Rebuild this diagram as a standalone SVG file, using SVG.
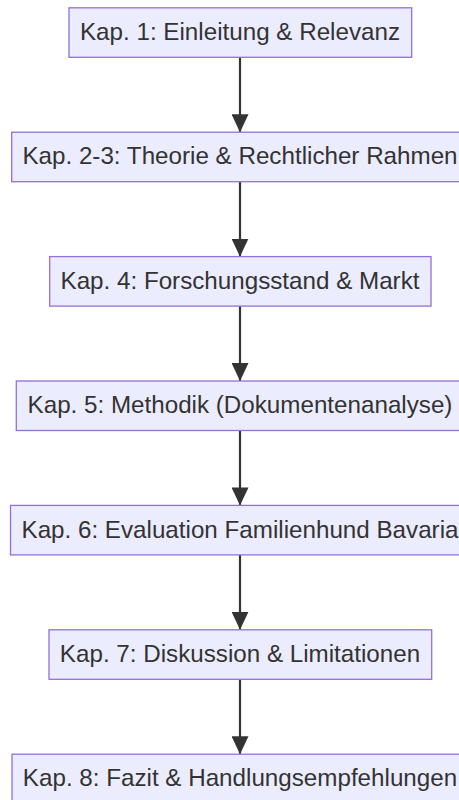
<svg xmlns="http://www.w3.org/2000/svg" width="459" height="800" viewBox="0 0 459 800">
<defs>
<style>
.node rect{fill:#ECECFF;stroke:#9370DB;stroke-width:1.3}
.node text{font-family:"Liberation Sans",Arial,sans-serif;font-size:24.2px;fill:#333;text-anchor:middle}
.edge{stroke:#333;stroke-width:2.2;fill:none}
</style>
<marker id="arr" viewBox="0 0 18 17" refX="18" refY="8.5" markerUnits="userSpaceOnUse" markerWidth="18" markerHeight="17" orient="auto">
<path d="M0,0 L18,8.5 L0,17 Z" fill="#333"/>
</marker>
</defs>
<rect width="459" height="800" fill="#fff"/>
<g id="connectors">
<line class="edge" x1="240" y1="57.3" x2="240" y2="132.2" marker-end="url(#arr)"/>
<line class="edge" x1="240" y1="181.7" x2="240" y2="256.6" marker-end="url(#arr)"/>
<line class="edge" x1="240" y1="306.1" x2="240" y2="381" marker-end="url(#arr)"/>
<line class="edge" x1="240" y1="430.5" x2="240" y2="505.4" marker-end="url(#arr)"/>
<line class="edge" x1="240" y1="554.9" x2="240" y2="629.8" marker-end="url(#arr)"/>
<line class="edge" x1="240" y1="679.3" x2="240" y2="754.2" marker-end="url(#arr)"/>
</g>
<g id="n1" class="node"><rect x="69" y="7.8" width="342.7" height="49.5"/><text x="240" y="40">Kap. 1: Einleitung &amp; Relevanz</text></g>
<g id="n2" class="node"><rect x="11.7" y="132.2" width="456.6" height="49.5"/><text x="240" y="164.4">Kap. 2-3: Theorie &amp; Rechtlicher Rahmen</text></g>
<g id="n3" class="node"><rect x="49.7" y="256.6" width="381.3" height="49.5"/><text x="240" y="288.8">Kap. 4: Forschungsstand &amp; Markt</text></g>
<g id="n4" class="node"><rect x="16.3" y="381" width="447.4" height="49.5"/><text x="240" y="413.2">Kap. 5: Methodik (Dokumentenanalyse)</text></g>
<g id="n5" class="node"><rect x="10.5" y="505.4" width="459" height="49.5"/><text x="240" y="537.6">Kap. 6: Evaluation Familienhund Bavaria</text></g>
<g id="n6" class="node"><rect x="49" y="629.8" width="382.7" height="49.5"/><text x="240" y="662">Kap. 7: Diskussion &amp; Limitationen</text></g>
<g id="n7" class="node"><rect x="12" y="754.2" width="456" height="49.5"/><text x="240" y="786.4">Kap. 8: Fazit &amp; Handlungsempfehlungen</text></g>
</svg>
